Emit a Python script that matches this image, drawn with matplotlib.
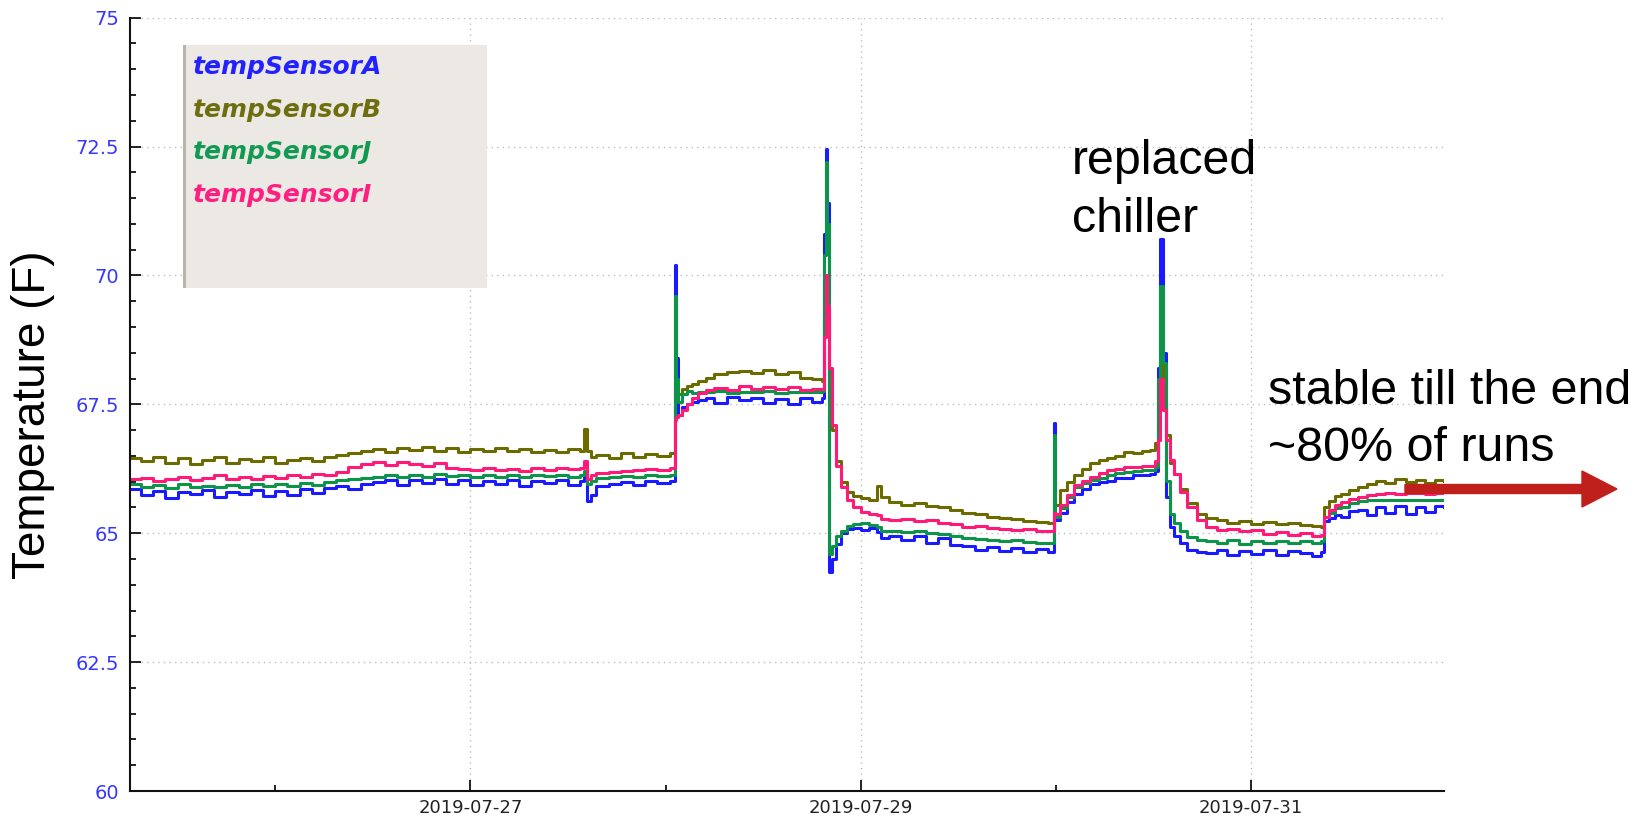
import datetime as dt
import matplotlib
matplotlib.use("Agg")
import matplotlib.pyplot as plt
import matplotlib.dates as mdates
from matplotlib.patches import Rectangle, FancyArrow

# hours since 2019-07-25 00:00
hours = [
    6.2, 7.5, 9, 10.5, 12, 13.5, 15, 16.5, 18, 19.5, 21, 22.5, 24, 25.5, 27, 28.5,
    30, 31.5, 33, 34.5, 36, 37.5, 39, 40.5, 42, 43.5, 45, 46.5, 48, 49.5, 51, 52.5,
    54, 55.5, 57, 58.5, 60, 61.5, 62.0, 62.3, 62.8, 63.5, 65, 66.5, 68, 69.5, 71, 72.5,
    73.2, 73.3, 73.5, 74, 74.6, 75.3, 76, 77, 78, 79.5, 81, 82.5, 84, 85.5, 87, 88.5, 90, 91.2,
    91.5, 91.7, 91.9, 92.1, 92.5, 93, 93.6, 94.3, 95, 96, 97, 98, 98.5, 99.5, 101, 102.5,
    104, 105.5, 107, 108.5, 110, 111.5, 113, 114.5, 116, 117.5, 119,
    119.7, 119.9, 120.5, 121.3, 122.2, 123.2, 124.2, 125.3, 126.3, 127.3, 128.3, 129.5,
    130.6, 131.6, 132.2,
    132.5, 132.8, 133.1, 133.5, 134.0, 134.5, 135.2, 136.1, 137.3, 138.5, 139.8, 141,
    142.5, 144, 145.5, 147, 148.5, 150, 151.5, 152.6,
    152.9, 153.5, 154.3, 155, 156, 157.1, 158.2, 159.3, 160.5, 161.7, 163, 164.2, 165.4,
    166.6, 167.7,
]

sensor_a = [
    65.85, 65.74, 65.82, 65.68, 65.80, 65.76, 65.84, 65.70, 65.80, 65.76, 65.83, 65.72, 65.81, 65.75, 65.85, 65.79,
    65.88, 65.92, 65.86, 65.96, 66.00, 66.03, 65.93, 66.04, 65.98, 66.05, 65.95, 66.03, 65.93, 66.02, 65.96, 66.04,
    65.92, 66.02, 65.97, 66.03, 65.94, 66.01, 66.10, 65.62, 65.75, 65.92, 65.96, 66.00, 65.93, 66.02, 65.98, 66.02,
    70.20, 68.40, 67.30, 67.45, 67.50, 67.55, 67.58, 67.62, 67.52, 67.64, 67.58, 67.62, 67.52, 67.60, 67.50, 67.62, 67.55, 67.62,
    70.80, 72.45, 71.40, 64.25, 64.50, 64.80, 65.00, 65.08, 65.10, 65.06, 65.10, 65.02, 64.90, 64.95, 64.86, 64.94,
    64.82, 64.90, 64.78, 64.75, 64.68, 64.74, 64.65, 64.72, 64.63, 64.70, 64.64,
    67.14, 65.25, 65.40, 65.60, 65.77, 65.86, 65.95, 66.00, 66.01, 66.08, 66.08, 66.12,
    66.12, 66.15, 66.20,
    68.20, 70.70, 68.50, 65.70, 65.13, 64.95, 64.82, 64.67, 64.63, 64.62, 64.68, 64.58,
    64.66, 64.60, 64.67, 64.58, 64.66, 64.62, 64.56, 64.64,
    65.24, 65.30, 65.36, 65.32, 65.44, 65.45, 65.36, 65.50, 65.40, 65.52, 65.38, 65.50, 65.42,
    65.53, 65.50,
]

sensor_b = [
    66.45, 66.40, 66.48, 66.36, 66.45, 66.35, 66.42, 66.47, 66.37, 66.44, 66.40, 66.48, 66.36, 66.43, 66.46, 66.41,
    66.48, 66.52, 66.56, 66.60, 66.64, 66.58, 66.66, 66.61, 66.67, 66.60, 66.65, 66.58, 66.63, 66.60, 66.66, 66.59,
    66.64, 66.57, 66.62, 66.58, 66.63, 66.60, 67.03, 66.60, 66.48, 66.52, 66.46, 66.55, 66.48, 66.54, 66.50, 66.56,
    67.80, 67.85, 67.70, 67.80, 67.85, 67.90, 67.95, 68.02, 68.08, 68.12, 68.15, 68.10, 68.16, 68.08, 68.12, 68.02, 68.00, 67.95,
    69.30, 69.80, 69.20, 67.80, 67.00, 66.40, 66.00, 65.80, 65.72, 65.68, 65.65, 65.92, 65.70, 65.60, 65.55, 65.58,
    65.52, 65.50, 65.46, 65.40, 65.38, 65.32, 65.30, 65.28, 65.24, 65.22, 65.20,
    65.70, 65.55, 65.84, 66.00, 66.12, 66.25, 66.36, 66.42, 66.46, 66.50, 66.58, 66.56,
    66.60, 66.62, 66.75,
    67.20, 68.30, 67.60, 66.90, 66.36, 66.15, 65.85, 65.58, 65.38, 65.30, 65.25, 65.20,
    65.24, 65.18, 65.22, 65.17, 65.20, 65.16, 65.14, 65.12,
    65.51, 65.62, 65.72, 65.77, 65.84, 65.90, 65.96, 66.02, 65.98, 66.05, 65.99, 66.04, 65.98,
    66.03, 66.02,
]

sensor_j = [
    65.95, 65.90, 65.93, 65.88, 65.95, 65.90, 65.92, 65.89, 65.94, 65.90, 65.95, 65.92, 65.96, 65.91, 65.97, 65.94,
    66.00, 66.03, 66.06, 66.08, 66.10, 66.12, 66.09, 66.13, 66.10, 66.14, 66.11, 66.12, 66.10, 66.13, 66.09, 66.12,
    66.10, 66.13, 66.11, 66.12, 66.10, 66.12, 66.20, 65.95, 66.02, 66.08, 66.10, 66.11, 66.10, 66.12, 66.11, 66.13,
    69.60, 68.00, 67.55, 67.70, 67.75, 67.72, 67.74, 67.73, 67.75, 67.72, 67.74, 67.73, 67.75, 67.72, 67.74, 67.73, 67.74, 67.75,
    70.40, 72.20, 71.00, 64.60, 64.75, 64.95, 65.05, 65.15, 65.18, 65.20, 65.16, 65.12, 65.05, 65.04, 65.02, 65.05,
    65.00, 64.98, 64.95, 64.90, 64.88, 64.86, 64.84, 64.86, 64.83, 64.82, 64.82,
    66.90, 65.32, 65.48, 65.70, 65.90, 65.97, 66.03, 66.08, 66.13, 66.16, 66.18, 66.20,
    66.22, 66.23, 66.28,
    68.00, 69.80, 68.30, 66.02, 65.38, 65.20, 65.05, 64.93, 64.87, 64.85, 64.82, 64.86,
    64.80, 64.84, 64.81, 64.85, 64.82, 64.84, 64.82, 64.84,
    65.32, 65.40, 65.48, 65.51, 65.58, 65.62, 65.64, 65.64, 65.65, 65.64, 65.65, 65.64, 65.65,
    65.64, 65.65,
]

sensor_i = [
    66.05, 66.08, 66.02, 66.06, 66.10, 66.04, 66.08, 66.12, 66.06, 66.10, 66.05, 66.11, 66.07, 66.12, 66.09, 66.14,
    66.12, 66.18, 66.28, 66.34, 66.38, 66.33, 66.39, 66.35, 66.30, 66.36, 66.26, 66.24, 66.22, 66.27, 66.23, 66.25,
    66.21, 66.26, 66.22, 66.27, 66.24, 66.26, 66.40, 66.05, 66.12, 66.16, 66.18, 66.20, 66.22, 66.24, 66.23, 66.26,
    67.20, 67.25, 67.30, 67.40, 67.50, 67.62, 67.72, 67.78, 67.82, 67.78, 67.85, 67.80, 67.84, 67.79, 67.83, 67.78, 67.80, 67.79,
    68.80, 70.00, 69.40, 68.20, 67.10, 66.30, 65.90, 65.65, 65.50, 65.42, 65.38, 65.35, 65.28, 65.26, 65.28, 65.24,
    65.26, 65.20, 65.18, 65.12, 65.14, 65.10, 65.08, 65.06, 65.08, 65.04, 65.05,
    65.40, 65.38, 65.55, 65.75, 65.93, 66.02, 66.10, 66.17, 66.23, 66.25, 66.28, 66.29,
    66.30, 66.31, 66.40,
    66.80, 68.00, 67.40, 66.80, 66.42, 66.15, 65.80, 65.51, 65.25, 65.12, 65.06, 65.08,
    65.04, 65.06, 64.98, 65.02, 64.96, 65.00, 64.95, 64.97,
    65.32, 65.45, 65.55, 65.60, 65.66, 65.71, 65.74, 65.77, 65.78, 65.77, 65.79, 65.78, 65.77,
    65.78, 65.78,
]

names = ["tempSensorA", "tempSensorB", "tempSensorJ", "tempSensorI"]
line_colors = ["#1a1aff", "#6b6b00", "#0c9448", "#ff1a78"]
text_colors = ["#2222ff", "#6e6e10", "#129a52", "#ff1f80"]

W, H = 1636, 822
t0 = dt.datetime(2019, 7, 25)
times = [t0 + dt.timedelta(hours=h) for h in hours]

fig = plt.figure(figsize=(W / 100, H / 100), dpi=100)
ax = fig.add_axes([130.4 / W, 1 - 791 / H, (1444 - 130.4) / W, (791 - 17.7) / H])

for vals, c in zip([sensor_a, sensor_b, sensor_j, sensor_i], line_colors):
    ax.plot(times, vals, drawstyle="steps-post", color=c, lw=2.2)

ax.set_xlim(times[0], times[-1])
ax.set_ylim(60, 75)
ax.set_yticks([60, 62.5, 65, 67.5, 70, 72.5, 75])
ax.set_yticklabels(["60", "62.5", "65", "67.5", "70", "72.5", "75"])
ax.set_yticks([v / 2 for v in range(120, 151)], minor=True)
ax.xaxis.set_major_locator(mdates.DayLocator(bymonthday=[27, 29, 31]))
ax.xaxis.set_minor_locator(mdates.DayLocator(bymonthday=[26, 28, 30]))
ax.xaxis.set_major_formatter(mdates.DateFormatter("%Y-%m-%d"))

ax.spines["top"].set_visible(False)
ax.spines["right"].set_visible(False)
for s in ["left", "bottom"]:
    ax.spines[s].set_linewidth(1.5)
    ax.spines[s].set_color("#111111")
ax.tick_params(axis="both", which="major", direction="in", length=8, width=1.3, color="#111111")
ax.tick_params(axis="both", which="minor", direction="in", length=4, width=1.3, color="#111111")
ax.tick_params(axis="y", which="major", labelsize=14, labelcolor="#3636ff", pad=8)
ax.tick_params(axis="x", which="major", labelsize=13, labelcolor="#222222", pad=6)
ax.grid(True, which="major", color="#bdbdbd", linestyle=(0, (1, 3)), linewidth=1)
ax.set_axisbelow(True)

fig.text(33.5 / W, 1 - 415 / H, "Temperature (F)", rotation=90, ha="center", va="center",
         fontsize=33, family="Liberation Sans")

# legend box
fig.patches.append(Rectangle((183 / W, 1 - 288 / H), (487 - 183) / W, (288 - 45) / H,
                             transform=fig.transFigure, facecolor="#ece9e5", edgecolor="none"))
fig.patches.append(Rectangle((183 / W, 1 - 288 / H), 3 / W, (288 - 45) / H,
                             transform=fig.transFigure, facecolor="#b7b3ad", edgecolor="none"))
for i, (nm, c) in enumerate(zip(names, text_colors)):
    fig.text(193 / W, 1 - (74 + 42.7 * i) / H, nm, color=c, fontsize=18,
             fontweight="bold", fontstyle="italic", va="baseline", family="DejaVu Sans")

# annotations
ann = dict(fontsize=34.8, family="Liberation Sans", va="baseline", ha="left", color="black")
fig.text(1071.5 / W, 1 - 174 / H, "replaced", **ann)
fig.text(1071.5 / W, 1 - 231.5 / H, "chiller", **ann)
fig.text(1268 / W, 1 - 404 / H, "stable till the end", **ann)
fig.text(1268 / W, 1 - 461 / H, "~80% of runs", **ann)

fig.patches.append(FancyArrow(1405 / W, 1 - 489 / H, (1617 - 1405) / W, 0,
                              width=9 / H, head_width=36 / H, head_length=35 / W,
                              length_includes_head=True, transform=fig.transFigure,
                              color="#c0201c", zorder=5))

fig.savefig("out.png", dpi=100)
